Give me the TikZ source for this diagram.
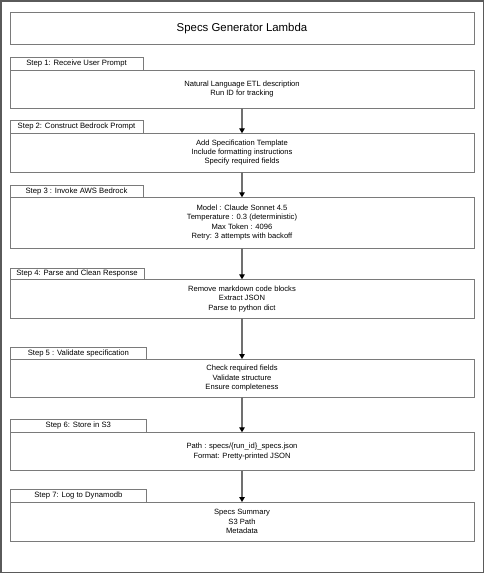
\documentclass[tikz,border=0pt]{standalone}
\usepackage{fontspec}
\setmainfont{Liberation Sans}
\usetikzlibrary{arrows.meta}
\definecolor{framec}{HTML}{5A5A5A}
\definecolor{boxc}{HTML}{7A7A7A}
\definecolor{arrc}{HTML}{707070}
\begin{document}
\begin{tikzpicture}[x=1pt,y=1pt,
  boxbase/.style={draw=boxc, line width=0.9pt, inner sep=0pt, outer sep=0pt, anchor=north west},
  titlebox/.style={boxbase, minimum width=464pt, font=\fontsize{11.4}{13}\selectfont},
  tabbox/.style={boxbase, font=\fontsize{7.7}{9.3}\selectfont},
  stepbox/.style={boxbase, minimum width=464pt, align=center, font=\fontsize{7.6}{9.3}\selectfont},
  arr/.style={draw=arrc, line width=1.3pt, -{Triangle[length=5pt,width=5.5pt,color=black]}}
]
\useasboundingbox (0,0) rectangle (484,-573);
\draw[framec, line width=1.5pt] (0.75,-0.75) rectangle (483.25,-572.25);

\node[titlebox, minimum height=31.6pt] (title) at (10,-12.7) {Specs Generator Lambda};

% Step 1
\node[tabbox, minimum width=133pt, minimum height=12.7pt] (t1) at (10,-57.3) {Step 1: Receive User Prompt};
\node[stepbox, minimum height=38.3pt] (b1) at (10,-70) {Natural Language ETL description\\Run ID for tracking};

% Step 2
\node[tabbox, minimum width=133pt, minimum height=13.3pt] (t2) at (10,-120) {Step 2: Construct Bedrock Prompt};
\node[stepbox, minimum height=38.7pt] (b2) at (10,-133.3) {Add Specification Template\\Include formatting instructions\\Specify required fields};

% Step 3
\node[tabbox, minimum width=133pt, minimum height=12pt] (t3) at (10,-185.3) {Step 3 : Invoke AWS Bedrock};
\node[stepbox, minimum height=50.7pt] (b3) at (10,-197.3) {Model : Claude Sonnet 4.5\\Temperature : 0.3 (deterministic)\\Max Token : 4096\\Retry: 3 attempts with backoff};

% Step 4
\node[tabbox, minimum width=134pt, minimum height=11pt] (t4) at (10,-268.3) {Step 4: Parse and Clean Response};
\node[stepbox, minimum height=39pt] (b4) at (10,-279.3) {Remove markdown code blocks\\Extract JSON\\Parse to python dict};

% Step 5
\node[tabbox, minimum width=136.7pt, minimum height=11.7pt] (t5) at (10,-347.3) {Step 5 : Validate specification};
\node[stepbox, minimum height=38.3pt] (b5) at (10,-359) {Check required fields\\Validate structure\\Ensure completeness};

% Step 6
\node[tabbox, minimum width=136.7pt, minimum height=13pt] (t6) at (10,-419.3) {Step 6: Store in S3};
\node[stepbox, minimum height=38.4pt] (b6) at (10,-432.3) {Path : specs/\{run\_id\}\_specs.json\\Format: Pretty-printed JSON};

% Step 7
\node[tabbox, minimum width=136.7pt, minimum height=12.7pt] (t7) at (10,-489.3) {Step 7: Log to Dynamodb};
\node[stepbox, minimum height=39pt] (b7) at (10,-502) {Specs Summary\\S3 Path\\Metadata};

\draw[arr] (b1.south) -- (b2.north);
\draw[arr] (b2.south) -- (b3.north);
\draw[arr] (b3.south) -- (b4.north);
\draw[arr] (b4.south) -- (b5.north);
\draw[arr] (b5.south) -- (b6.north);
\draw[arr] (b6.south) -- (b7.north);
\end{tikzpicture}
\end{document}
